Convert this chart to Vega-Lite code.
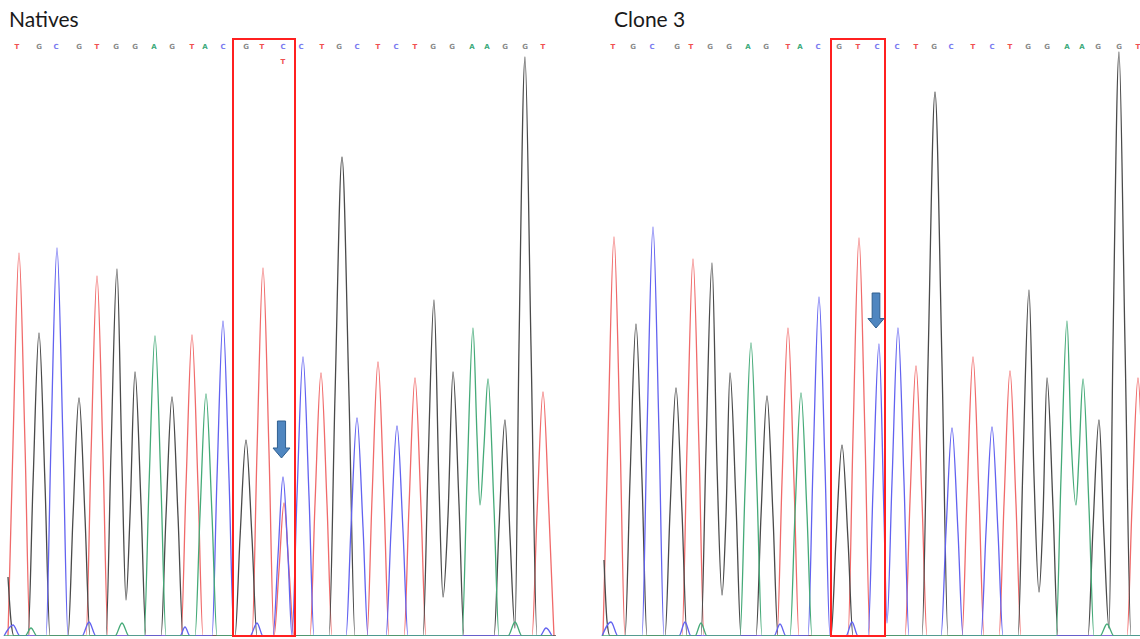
{
 "$schema": "https://vega.github.io/schema/vega-lite/v6.json",
 "padding": {"left": 0, "right": 0, "top": 10, "bottom": 0},
 "background": "white",
 "config": {"view": {"stroke": null}, "concat": {"spacing": 40}},
 "resolve": {"scale": {"x": "independent", "y": "independent"}},
 "datasets": {
  "tr": [
   {"p":"N","b":"T","x":8,"y":0},{"p":"N","b":"T","x":13,"y":192},{"p":"N","b":"T","x":19,"y":383},{"p":"N","b":"T","x":25,"y":192},{"p":"N","b":"T","x":30,"y":0},
   {"p":"N","b":"T","x":86,"y":0},{"p":"N","b":"T","x":91,"y":180},{"p":"N","b":"T","x":97,"y":360},{"p":"N","b":"T","x":103,"y":180},{"p":"N","b":"T","x":108,"y":0},
   {"p":"N","b":"T","x":181,"y":0},{"p":"N","b":"T","x":186,"y":150},{"p":"N","b":"T","x":192,"y":301},{"p":"N","b":"T","x":198,"y":150},{"p":"N","b":"T","x":203,"y":0},
   {"p":"N","b":"T","x":252,"y":0},{"p":"N","b":"T","x":257,"y":184},{"p":"N","b":"T","x":263,"y":368},{"p":"N","b":"T","x":269,"y":184},{"p":"N","b":"T","x":274,"y":0},
   {"p":"N","b":"T","x":279,"y":66},{"p":"N","b":"T","x":284,"y":133},{"p":"N","b":"T","x":289,"y":66},{"p":"N","b":"T","x":294,"y":0},
   {"p":"N","b":"T","x":310,"y":0},{"p":"N","b":"T","x":315,"y":132},{"p":"N","b":"T","x":321,"y":263},{"p":"N","b":"T","x":327,"y":132},{"p":"N","b":"T","x":332,"y":0},
   {"p":"N","b":"T","x":367,"y":0},{"p":"N","b":"T","x":372,"y":137},{"p":"N","b":"T","x":378,"y":274},{"p":"N","b":"T","x":384,"y":137},{"p":"N","b":"T","x":389,"y":0},
   {"p":"N","b":"T","x":404,"y":0},{"p":"N","b":"T","x":409,"y":129},{"p":"N","b":"T","x":415,"y":258},{"p":"N","b":"T","x":421,"y":129},{"p":"N","b":"T","x":426,"y":0},
   {"p":"N","b":"T","x":532,"y":0},{"p":"N","b":"T","x":537,"y":122},{"p":"N","b":"T","x":543,"y":244},{"p":"N","b":"T","x":549,"y":122},{"p":"N","b":"T","x":554,"y":0},

   {"p":"N","b":"G","x":8,"y":59},{"p":"N","b":"G","x":11,"y":15},{"p":"N","b":"G","x":14,"y":0},
   {"p":"N","b":"G","x":28,"y":0},{"p":"N","b":"G","x":33,"y":152},{"p":"N","b":"G","x":39,"y":303},{"p":"N","b":"G","x":45,"y":152},{"p":"N","b":"G","x":50,"y":0},
   {"p":"N","b":"G","x":68,"y":0},{"p":"N","b":"G","x":73,"y":119},{"p":"N","b":"G","x":79,"y":238},{"p":"N","b":"G","x":85,"y":119},{"p":"N","b":"G","x":90,"y":0},
   {"p":"N","b":"G","x":106,"y":0},{"p":"N","b":"G","x":111,"y":184},{"p":"N","b":"G","x":117,"y":367},{"p":"N","b":"G","x":122,"y":170},{"p":"N","b":"G","x":126,"y":36},{"p":"N","b":"G","x":130,"y":120},{"p":"N","b":"G","x":135,"y":264},{"p":"N","b":"G","x":141,"y":132},{"p":"N","b":"G","x":146,"y":0},
   {"p":"N","b":"G","x":161,"y":0},{"p":"N","b":"G","x":166,"y":120},{"p":"N","b":"G","x":172,"y":239},{"p":"N","b":"G","x":178,"y":120},{"p":"N","b":"G","x":183,"y":0},
   {"p":"N","b":"G","x":235,"y":0},{"p":"N","b":"G","x":240,"y":98},{"p":"N","b":"G","x":246,"y":196},{"p":"N","b":"G","x":252,"y":98},{"p":"N","b":"G","x":257,"y":0},
   {"p":"N","b":"G","x":329,"y":0},{"p":"N","b":"G","x":335,"y":240},{"p":"N","b":"G","x":342,"y":479},{"p":"N","b":"G","x":349,"y":240},{"p":"N","b":"G","x":355,"y":0},
   {"p":"N","b":"G","x":423,"y":0},{"p":"N","b":"G","x":428,"y":168},{"p":"N","b":"G","x":434,"y":336},{"p":"N","b":"G","x":439,"y":150},{"p":"N","b":"G","x":443,"y":39},{"p":"N","b":"G","x":448,"y":120},{"p":"N","b":"G","x":453,"y":264},{"p":"N","b":"G","x":459,"y":132},{"p":"N","b":"G","x":464,"y":0},
   {"p":"N","b":"G","x":494,"y":0},{"p":"N","b":"G","x":499,"y":108},{"p":"N","b":"G","x":505,"y":216},{"p":"N","b":"G","x":510,"y":100},{"p":"N","b":"G","x":515,"y":8},{"p":"N","b":"G","x":519,"y":290},{"p":"N","b":"G","x":525,"y":579},{"p":"N","b":"G","x":531,"y":290},{"p":"N","b":"G","x":537,"y":0},{"p":"N","b":"G","x":556,"y":0},

   {"p":"N","b":"C","x":4,"y":0},{"p":"N","b":"C","x":13,"y":11},{"p":"N","b":"C","x":20,"y":0},
   {"p":"N","b":"C","x":46,"y":0},{"p":"N","b":"C","x":51,"y":194},{"p":"N","b":"C","x":57,"y":388},{"p":"N","b":"C","x":63,"y":194},{"p":"N","b":"C","x":68,"y":0},
   {"p":"N","b":"C","x":82,"y":0},{"p":"N","b":"C","x":89,"y":14},{"p":"N","b":"C","x":96,"y":0},
   {"p":"N","b":"C","x":180,"y":0},{"p":"N","b":"C","x":185,"y":9},{"p":"N","b":"C","x":190,"y":0},
   {"p":"N","b":"C","x":212,"y":0},{"p":"N","b":"C","x":217,"y":158},{"p":"N","b":"C","x":223,"y":315},{"p":"N","b":"C","x":229,"y":158},{"p":"N","b":"C","x":234,"y":0},
   {"p":"N","b":"C","x":250,"y":0},{"p":"N","b":"C","x":257,"y":13},{"p":"N","b":"C","x":263,"y":0},
   {"p":"N","b":"C","x":273,"y":0},{"p":"N","b":"C","x":278,"y":80},{"p":"N","b":"C","x":283,"y":159},{"p":"N","b":"C","x":288,"y":80},{"p":"N","b":"C","x":292,"y":0},
   {"p":"N","b":"C","x":297,"y":140},{"p":"N","b":"C","x":303,"y":279},{"p":"N","b":"C","x":309,"y":140},{"p":"N","b":"C","x":314,"y":0},
   {"p":"N","b":"C","x":346,"y":0},{"p":"N","b":"C","x":351,"y":109},{"p":"N","b":"C","x":357,"y":218},{"p":"N","b":"C","x":363,"y":109},{"p":"N","b":"C","x":368,"y":0},
   {"p":"N","b":"C","x":386,"y":0},{"p":"N","b":"C","x":391,"y":105},{"p":"N","b":"C","x":397,"y":210},{"p":"N","b":"C","x":403,"y":105},{"p":"N","b":"C","x":408,"y":0},
   {"p":"N","b":"C","x":540,"y":0},{"p":"N","b":"C","x":546,"y":8},{"p":"N","b":"C","x":552,"y":0},

   {"p":"N","b":"A","x":4,"y":0},{"p":"N","b":"A","x":25,"y":0},{"p":"N","b":"A","x":31,"y":8},{"p":"N","b":"A","x":37,"y":0},
   {"p":"N","b":"A","x":115,"y":0},{"p":"N","b":"A","x":122,"y":13},{"p":"N","b":"A","x":129,"y":0},
   {"p":"N","b":"A","x":144,"y":0},{"p":"N","b":"A","x":149,"y":150},{"p":"N","b":"A","x":155,"y":300},{"p":"N","b":"A","x":161,"y":150},{"p":"N","b":"A","x":166,"y":0},
   {"p":"N","b":"A","x":195,"y":0},{"p":"N","b":"A","x":200,"y":121},{"p":"N","b":"A","x":206,"y":242},{"p":"N","b":"A","x":212,"y":121},{"p":"N","b":"A","x":217,"y":0},
   {"p":"N","b":"A","x":462,"y":0},{"p":"N","b":"A","x":467,"y":154},{"p":"N","b":"A","x":473,"y":308},{"p":"N","b":"A","x":477,"y":200},{"p":"N","b":"A","x":480,"y":131},{"p":"N","b":"A","x":484,"y":190},{"p":"N","b":"A","x":488,"y":257},{"p":"N","b":"A","x":494,"y":128},{"p":"N","b":"A","x":499,"y":0},
   {"p":"N","b":"A","x":508,"y":0},{"p":"N","b":"A","x":515,"y":14},{"p":"N","b":"A","x":522,"y":0},{"p":"N","b":"A","x":552,"y":0},

   {"p":"C","b":"T","x":3,"y":0},{"p":"C","b":"T","x":8,"y":200},{"p":"C","b":"T","x":14,"y":399},{"p":"C","b":"T","x":20,"y":200},{"p":"C","b":"T","x":25,"y":0},
   {"p":"C","b":"T","x":82,"y":0},{"p":"C","b":"T","x":87,"y":188},{"p":"C","b":"T","x":93,"y":377},{"p":"C","b":"T","x":99,"y":188},{"p":"C","b":"T","x":104,"y":0},
   {"p":"C","b":"T","x":177,"y":0},{"p":"C","b":"T","x":182,"y":154},{"p":"C","b":"T","x":188,"y":308},{"p":"C","b":"T","x":194,"y":154},{"p":"C","b":"T","x":199,"y":0},
   {"p":"C","b":"T","x":248,"y":0},{"p":"C","b":"T","x":253,"y":199},{"p":"C","b":"T","x":259,"y":398},{"p":"C","b":"T","x":265,"y":199},{"p":"C","b":"T","x":270,"y":0},
   {"p":"C","b":"T","x":305,"y":0},{"p":"C","b":"T","x":310,"y":135},{"p":"C","b":"T","x":316,"y":270},{"p":"C","b":"T","x":322,"y":135},{"p":"C","b":"T","x":327,"y":0},
   {"p":"C","b":"T","x":362,"y":0},{"p":"C","b":"T","x":367,"y":140},{"p":"C","b":"T","x":373,"y":279},{"p":"C","b":"T","x":379,"y":140},{"p":"C","b":"T","x":384,"y":0},
   {"p":"C","b":"T","x":399,"y":0},{"p":"C","b":"T","x":404,"y":132},{"p":"C","b":"T","x":410,"y":265},{"p":"C","b":"T","x":416,"y":132},{"p":"C","b":"T","x":421,"y":0},
   {"p":"C","b":"T","x":527,"y":0},{"p":"C","b":"T","x":532,"y":129},{"p":"C","b":"T","x":538,"y":258},{"p":"C","b":"T","x":544,"y":129},{"p":"C","b":"T","x":549,"y":0},

   {"p":"C","b":"G","x":4,"y":76},{"p":"C","b":"G","x":7,"y":15},{"p":"C","b":"G","x":10,"y":0},
   {"p":"C","b":"G","x":25,"y":0},{"p":"C","b":"G","x":30,"y":156},{"p":"C","b":"G","x":36,"y":312},{"p":"C","b":"G","x":42,"y":156},{"p":"C","b":"G","x":47,"y":0},
   {"p":"C","b":"G","x":65,"y":0},{"p":"C","b":"G","x":70,"y":124},{"p":"C","b":"G","x":76,"y":248},{"p":"C","b":"G","x":82,"y":124},{"p":"C","b":"G","x":87,"y":0},
   {"p":"C","b":"G","x":101,"y":0},{"p":"C","b":"G","x":106,"y":186},{"p":"C","b":"G","x":112,"y":373},{"p":"C","b":"G","x":117,"y":170},{"p":"C","b":"G","x":122,"y":41},{"p":"C","b":"G","x":126,"y":120},{"p":"C","b":"G","x":130,"y":263},{"p":"C","b":"G","x":136,"y":132},{"p":"C","b":"G","x":141,"y":0},
   {"p":"C","b":"G","x":156,"y":0},{"p":"C","b":"G","x":161,"y":120},{"p":"C","b":"G","x":167,"y":240},{"p":"C","b":"G","x":173,"y":120},{"p":"C","b":"G","x":178,"y":0},
   {"p":"C","b":"G","x":231,"y":0},{"p":"C","b":"G","x":236,"y":96},{"p":"C","b":"G","x":242,"y":191},{"p":"C","b":"G","x":248,"y":96},{"p":"C","b":"G","x":253,"y":0},
   {"p":"C","b":"G","x":322,"y":0},{"p":"C","b":"G","x":328,"y":272},{"p":"C","b":"G","x":335,"y":544},{"p":"C","b":"G","x":342,"y":272},{"p":"C","b":"G","x":348,"y":0},
   {"p":"C","b":"G","x":418,"y":0},{"p":"C","b":"G","x":423,"y":173},{"p":"C","b":"G","x":429,"y":346},{"p":"C","b":"G","x":434,"y":160},{"p":"C","b":"G","x":439,"y":44},{"p":"C","b":"G","x":443,"y":120},{"p":"C","b":"G","x":447,"y":258},{"p":"C","b":"G","x":453,"y":129},{"p":"C","b":"G","x":458,"y":0},
   {"p":"C","b":"G","x":488,"y":0},{"p":"C","b":"G","x":493,"y":108},{"p":"C","b":"G","x":499,"y":216},{"p":"C","b":"G","x":504,"y":100},{"p":"C","b":"G","x":509,"y":8},{"p":"C","b":"G","x":513,"y":292},{"p":"C","b":"G","x":519,"y":584},{"p":"C","b":"G","x":525,"y":292},{"p":"C","b":"G","x":531,"y":0},{"p":"C","b":"G","x":545,"y":0},

   {"p":"C","b":"C","x":2,"y":0},{"p":"C","b":"C","x":11,"y":14},{"p":"C","b":"C","x":18,"y":0},
   {"p":"C","b":"C","x":42,"y":0},{"p":"C","b":"C","x":47,"y":204},{"p":"C","b":"C","x":53,"y":409},{"p":"C","b":"C","x":59,"y":204},{"p":"C","b":"C","x":64,"y":0},
   {"p":"C","b":"C","x":79,"y":0},{"p":"C","b":"C","x":85,"y":14},{"p":"C","b":"C","x":91,"y":0},
   {"p":"C","b":"C","x":174,"y":0},{"p":"C","b":"C","x":180,"y":12},{"p":"C","b":"C","x":186,"y":0},
   {"p":"C","b":"C","x":208,"y":0},{"p":"C","b":"C","x":213,"y":170},{"p":"C","b":"C","x":219,"y":339},{"p":"C","b":"C","x":225,"y":170},{"p":"C","b":"C","x":230,"y":0},
   {"p":"C","b":"C","x":246,"y":0},{"p":"C","b":"C","x":252,"y":14},{"p":"C","b":"C","x":258,"y":0},
   {"p":"C","b":"C","x":268,"y":0},{"p":"C","b":"C","x":273,"y":146},{"p":"C","b":"C","x":279,"y":292},{"p":"C","b":"C","x":284,"y":120},{"p":"C","b":"C","x":287,"y":13},{"p":"C","b":"C","x":292,"y":154},{"p":"C","b":"C","x":298,"y":308},{"p":"C","b":"C","x":304,"y":154},{"p":"C","b":"C","x":309,"y":0},
   {"p":"C","b":"C","x":341,"y":0},{"p":"C","b":"C","x":346,"y":104},{"p":"C","b":"C","x":352,"y":208},{"p":"C","b":"C","x":358,"y":104},{"p":"C","b":"C","x":363,"y":0},
   {"p":"C","b":"C","x":381,"y":0},{"p":"C","b":"C","x":386,"y":104},{"p":"C","b":"C","x":392,"y":209},{"p":"C","b":"C","x":398,"y":104},{"p":"C","b":"C","x":403,"y":0},{"p":"C","b":"C","x":545,"y":0},

   {"p":"C","b":"A","x":2,"y":0},{"p":"C","b":"A","x":95,"y":0},{"p":"C","b":"A","x":101,"y":13},{"p":"C","b":"A","x":107,"y":0},
   {"p":"C","b":"A","x":140,"y":0},{"p":"C","b":"A","x":145,"y":146},{"p":"C","b":"A","x":151,"y":293},{"p":"C","b":"A","x":157,"y":146},{"p":"C","b":"A","x":162,"y":0},
   {"p":"C","b":"A","x":190,"y":0},{"p":"C","b":"A","x":195,"y":122},{"p":"C","b":"A","x":201,"y":243},{"p":"C","b":"A","x":207,"y":122},{"p":"C","b":"A","x":212,"y":0},
   {"p":"C","b":"A","x":456,"y":0},{"p":"C","b":"A","x":461,"y":158},{"p":"C","b":"A","x":467,"y":315},{"p":"C","b":"A","x":471,"y":200},{"p":"C","b":"A","x":476,"y":131},{"p":"C","b":"A","x":479,"y":180},{"p":"C","b":"A","x":483,"y":257},{"p":"C","b":"A","x":489,"y":128},{"p":"C","b":"A","x":494,"y":0},
   {"p":"C","b":"A","x":500,"y":0},{"p":"C","b":"A","x":507,"y":12},{"p":"C","b":"A","x":514,"y":0},{"p":"C","b":"A","x":545,"y":0}
  ],
  "lt": [
   {"p":"N","b":"T","x":17,"y":589},{"p":"N","b":"G","x":39,"y":589},{"p":"N","b":"C","x":56,"y":589},{"p":"N","b":"G","x":79,"y":589},{"p":"N","b":"T","x":97,"y":589},{"p":"N","b":"G","x":116,"y":589},{"p":"N","b":"G","x":135,"y":589},{"p":"N","b":"A","x":154,"y":589},{"p":"N","b":"G","x":172,"y":589},{"p":"N","b":"T","x":192,"y":589},{"p":"N","b":"A","x":205,"y":589},{"p":"N","b":"C","x":223,"y":589},{"p":"N","b":"G","x":246,"y":589},{"p":"N","b":"T","x":262,"y":589},{"p":"N","b":"C","x":283,"y":589},{"p":"N","b":"T","x":283,"y":574},{"p":"N","b":"C","x":301,"y":589},{"p":"N","b":"T","x":322,"y":589},{"p":"N","b":"G","x":339,"y":589},{"p":"N","b":"C","x":357,"y":589},{"p":"N","b":"T","x":378,"y":589},{"p":"N","b":"C","x":396,"y":589},{"p":"N","b":"T","x":415,"y":589},{"p":"N","b":"G","x":433,"y":589},{"p":"N","b":"G","x":452,"y":589},{"p":"N","b":"A","x":472,"y":589},{"p":"N","b":"A","x":487,"y":589},{"p":"N","b":"G","x":505,"y":589},{"p":"N","b":"G","x":525,"y":589},{"p":"N","b":"T","x":543,"y":589},
   {"p":"C","b":"T","x":13,"y":589},{"p":"C","b":"G","x":33,"y":589},{"p":"C","b":"C","x":52,"y":589},{"p":"C","b":"G","x":77,"y":589},{"p":"C","b":"T","x":91,"y":589},{"p":"C","b":"G","x":110,"y":589},{"p":"C","b":"G","x":129,"y":589},{"p":"C","b":"A","x":148,"y":589},{"p":"C","b":"G","x":166,"y":589},{"p":"C","b":"T","x":188,"y":589},{"p":"C","b":"A","x":200,"y":589},{"p":"C","b":"C","x":218,"y":589},{"p":"C","b":"G","x":239,"y":589},{"p":"C","b":"T","x":258,"y":589},{"p":"C","b":"C","x":277,"y":589},{"p":"C","b":"C","x":297,"y":589},{"p":"C","b":"T","x":316,"y":589},{"p":"C","b":"G","x":334,"y":589},{"p":"C","b":"C","x":351,"y":589},{"p":"C","b":"T","x":373,"y":589},{"p":"C","b":"C","x":392,"y":589},{"p":"C","b":"T","x":410,"y":589},{"p":"C","b":"G","x":428,"y":589},{"p":"C","b":"G","x":447,"y":589},{"p":"C","b":"A","x":467,"y":589},{"p":"C","b":"A","x":482,"y":589},{"p":"C","b":"G","x":498,"y":589},{"p":"C","b":"G","x":519,"y":589},{"p":"C","b":"T","x":538,"y":589}
  ],
  "bx": [
   {"p":"N","x":233,"x2":295,"y":597,"y2":0},
   {"p":"C","x":231,"x2":285,"y":597,"y2":0}
  ],
  "ar": [
   {"p":"N","x":281.5,"y":196.5},
   {"p":"C","x":276,"y":325.5}
  ]
 },
 "hconcat": [
  {
   "title": {"text": "Natives", "anchor": "start", "dx": 9, "fontSize": 21, "font": "Lato", "fontWeight": "normal", "color": "#1a1a1a", "offset": 5},
   "width": 560, "height": 600,
   "encoding": {
    "x": {"field": "x", "type": "quantitative", "scale": {"domain": [0, 560], "nice": false, "zero": false}, "axis": null},
    "y": {"field": "y", "type": "quantitative", "scale": {"domain": [0, 600], "nice": false}, "axis": null}
   },
   "layer": [
    {"data": {"name": "tr"}, "transform": [{"filter": "datum.p === 'N'"}],
     "mark": {"type": "line", "interpolate": "monotone", "strokeWidth": 1.3, "clip": true},
     "encoding": {"stroke": {"field": "b", "type": "nominal", "scale": {"domain": ["A", "C", "G", "T"], "range": ["#45aa78", "#6262f0", "#4a4a4a", "#f06a6a"]}, "legend": null}, "order": {"field": "x", "type": "quantitative"}}},
    {"data": {"name": "lt"}, "transform": [{"filter": "datum.p === 'N'"}],
     "mark": {"type": "text", "fontSize": 7, "fontWeight": "bold", "font": "DejaVu Sans"},
     "encoding": {"text": {"field": "b"}, "fill": {"field": "b", "type": "nominal", "scale": {"domain": ["A", "C", "G", "T"], "range": ["#3aaa7a", "#7a7af0", "#8a8a8a", "#f05050"]}, "legend": null}}},
    {"data": {"name": "bx"}, "transform": [{"filter": "datum.p === 'N'"}],
     "mark": {"type": "rect", "fillOpacity": 0, "stroke": "#ff2020", "strokeWidth": 2},
     "encoding": {"x2": {"field": "x2"}, "y2": {"field": "y2"}}},
    {"data": {"name": "ar"}, "transform": [{"filter": "datum.p === 'N'"}],
     "mark": {"type": "point", "shape": "M-0.22,-1L0.22,-1L0.22,0.46L0.46,0.46L0,1L-0.46,0.46L-0.22,0.46Z", "size": 1369, "filled": true, "fill": "#4f86c0", "stroke": "#2f5f90", "strokeWidth": 1, "opacity": 1}}
   ]
  },
  {
   "title": {"text": "Clone 3", "anchor": "start", "dx": 14, "fontSize": 21, "font": "Lato", "fontWeight": "normal", "color": "#1a1a1a", "offset": 5},
   "width": 540, "height": 600,
   "encoding": {
    "x": {"field": "x", "type": "quantitative", "scale": {"domain": [0, 540], "nice": false, "zero": false}, "axis": null},
    "y": {"field": "y", "type": "quantitative", "scale": {"domain": [0, 600], "nice": false}, "axis": null}
   },
   "layer": [
    {"data": {"name": "tr"}, "transform": [{"filter": "datum.p === 'C'"}],
     "mark": {"type": "line", "interpolate": "monotone", "strokeWidth": 1.3, "clip": true},
     "encoding": {"stroke": {"field": "b", "type": "nominal", "scale": {"domain": ["A", "C", "G", "T"], "range": ["#45aa78", "#6262f0", "#4a4a4a", "#f06a6a"]}, "legend": null}, "order": {"field": "x", "type": "quantitative"}}},
    {"data": {"name": "lt"}, "transform": [{"filter": "datum.p === 'C'"}],
     "mark": {"type": "text", "fontSize": 7, "fontWeight": "bold", "font": "DejaVu Sans", "clip": true},
     "encoding": {"text": {"field": "b"}, "fill": {"field": "b", "type": "nominal", "scale": {"domain": ["A", "C", "G", "T"], "range": ["#3aaa7a", "#7a7af0", "#8a8a8a", "#f05050"]}, "legend": null}}},
    {"data": {"name": "bx"}, "transform": [{"filter": "datum.p === 'C'"}],
     "mark": {"type": "rect", "fillOpacity": 0, "stroke": "#ff2020", "strokeWidth": 2},
     "encoding": {"x2": {"field": "x2"}, "y2": {"field": "y2"}}},
    {"data": {"name": "ar"}, "transform": [{"filter": "datum.p === 'C'"}],
     "mark": {"type": "point", "shape": "M-0.22,-1L0.22,-1L0.22,0.46L0.46,0.46L0,1L-0.46,0.46L-0.22,0.46Z", "size": 1225, "filled": true, "fill": "#4f86c0", "stroke": "#2f5f90", "strokeWidth": 1, "opacity": 1}}
   ]
  }
 ]
}
